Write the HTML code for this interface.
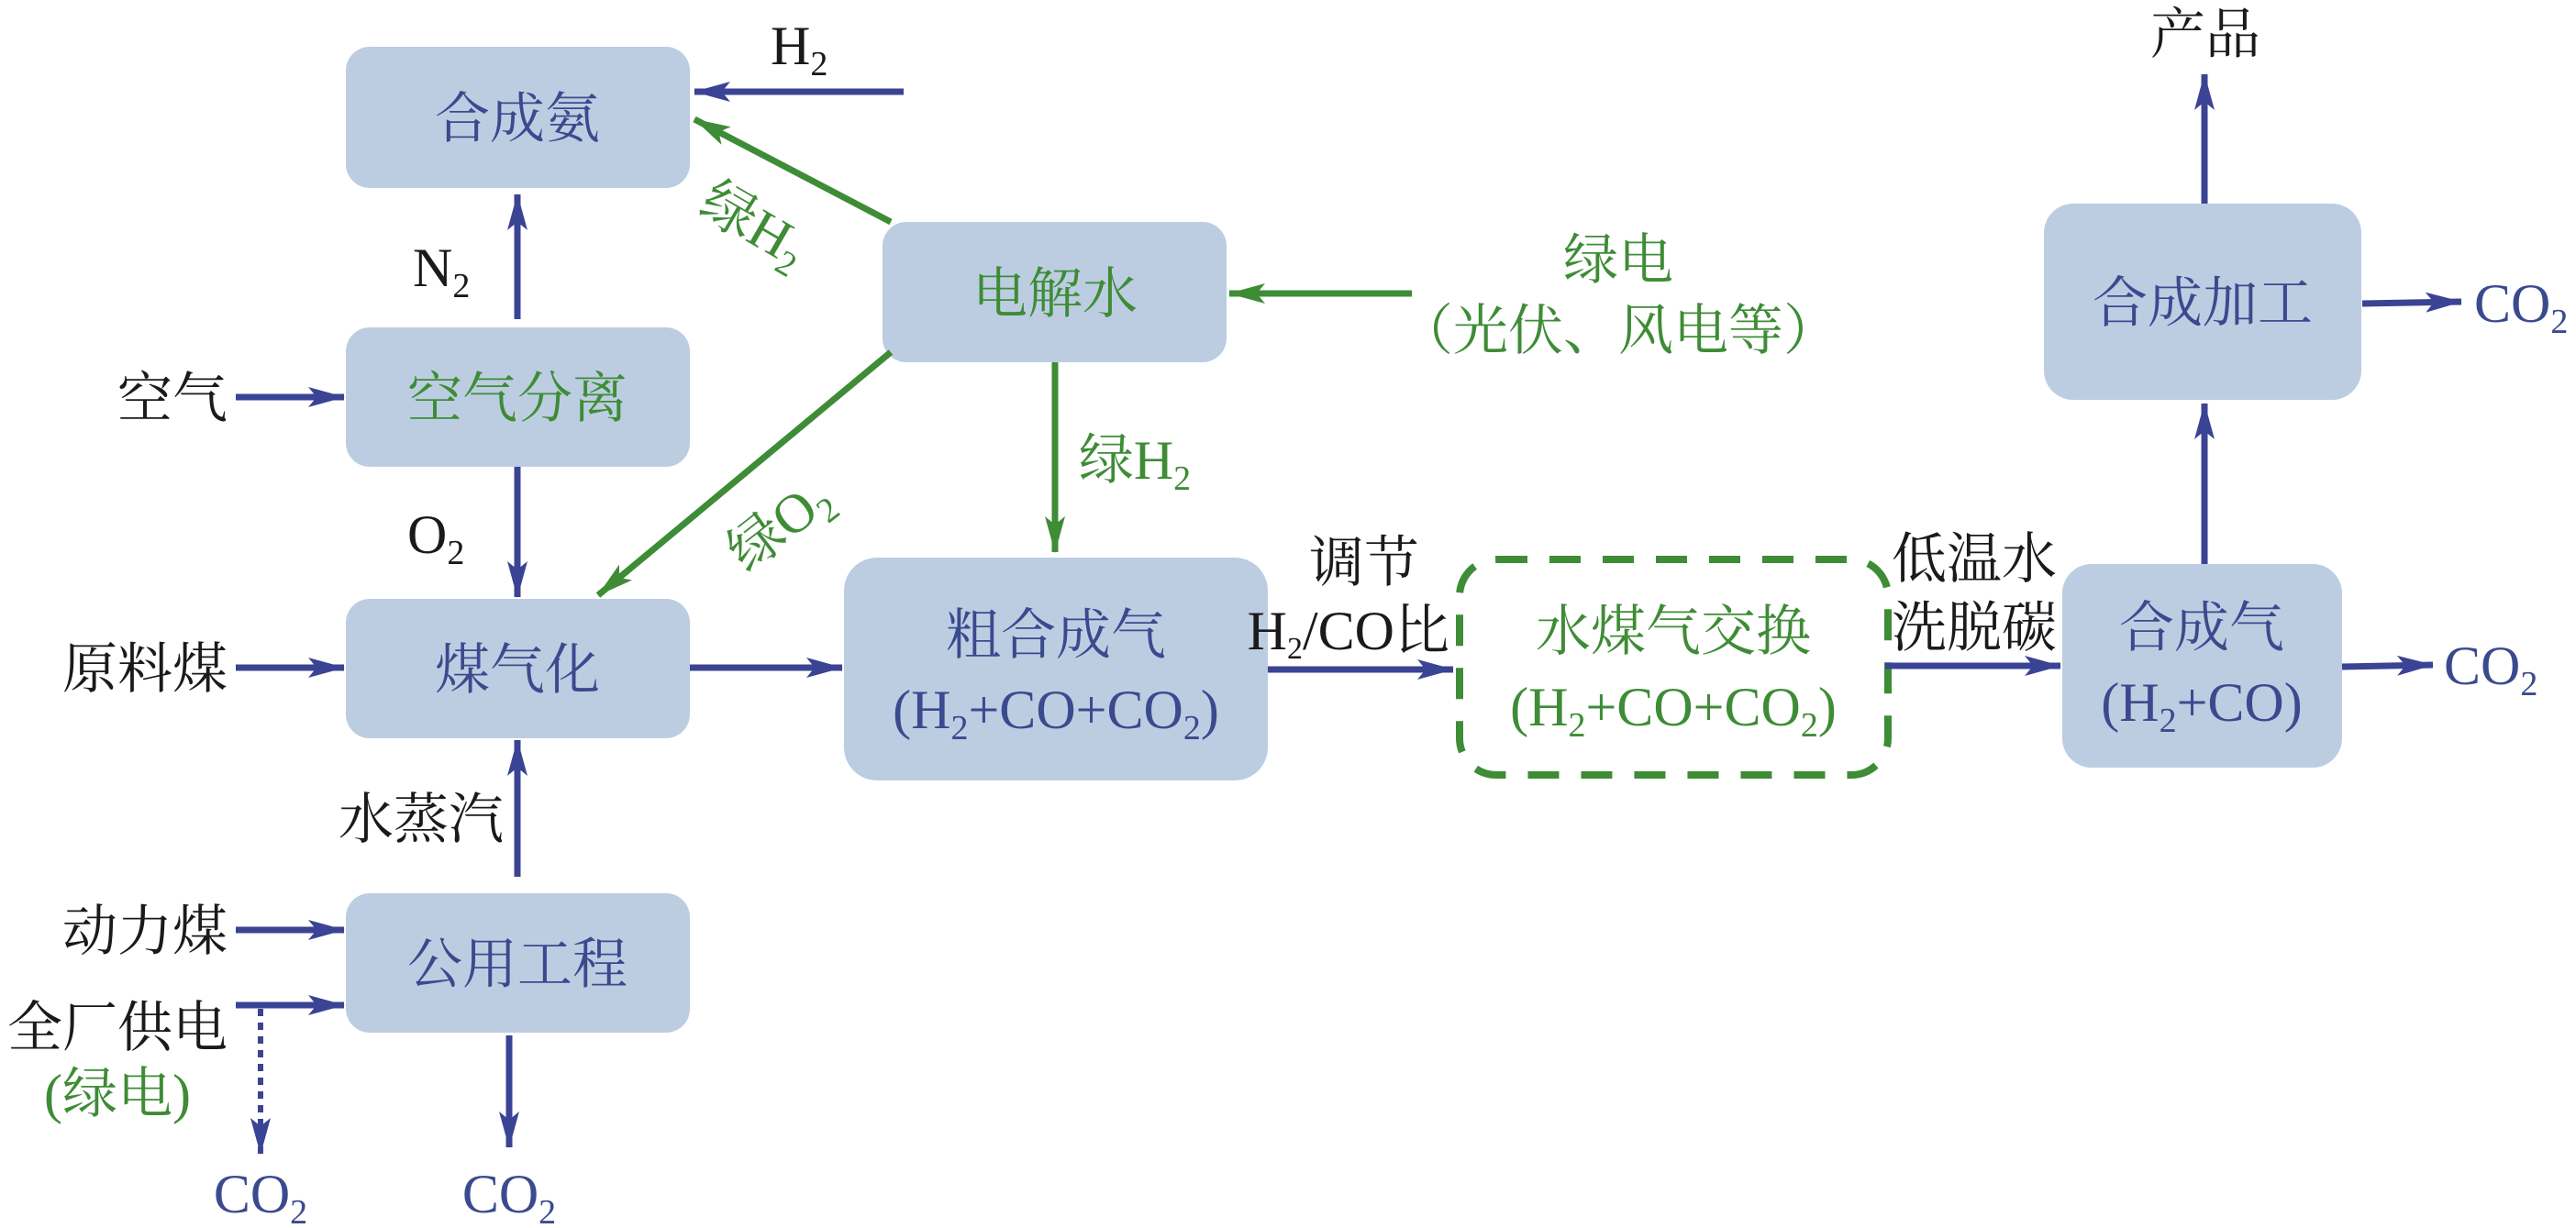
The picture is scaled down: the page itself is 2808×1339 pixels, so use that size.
<!DOCTYPE html>
<html><head><meta charset="utf-8"><style>
html,body{margin:0;padding:0;background:#fff;}
svg{display:block;}
text{font-family:"Liberation Serif","Noto Serif CJK SC",serif;font-size:60px;}
.b{fill:#3b4a8e;}
.g{fill:#3e8c36;}
.k{fill:#1a1a1a;}
.box{fill:#bccde2;}
</style></head><body>
<svg width="2808" height="1339" viewBox="0 0 2808 1339" xmlns="http://www.w3.org/2000/svg">
<defs>
<marker id="ab2" viewBox="0 0 40 22" refX="39" refY="11" markerWidth="40" markerHeight="22" markerUnits="userSpaceOnUse" orient="auto">
<path d="M0,0 L40,11 L0,22 L9,11 Z" fill="#3b4394"/></marker>
<marker id="ag" viewBox="0 0 40 22" refX="39" refY="11" markerWidth="40" markerHeight="22" markerUnits="userSpaceOnUse" orient="auto">
<path d="M0,0 L40,11 L0,22 L9,11 Z" fill="#3e8c36"/></marker>
</defs>

<rect class="box" x="377" y="51" width="375" height="154" rx="26"/>
<rect class="box" x="377" y="357" width="375" height="152" rx="26"/>
<rect class="box" x="377" y="653" width="375" height="152" rx="26"/>
<rect class="box" x="377" y="974" width="375" height="152" rx="26"/>
<rect class="box" x="962" y="242" width="375" height="153" rx="26"/>
<rect class="box" x="920" y="608" width="462" height="243" rx="36"/>
<rect class="box" x="2248" y="615" width="305" height="222" rx="32"/>
<rect class="box" x="2228" y="222" width="346" height="214" rx="32"/>
<rect x="1591" y="610" width="467" height="235" rx="40" fill="none" stroke="#3e8c36" stroke-width="8" stroke-dasharray="34,24"/>

<g stroke="#3b4394" stroke-width="7" fill="none" marker-end="url(#ab2)">
<line x1="985" y1="100" x2="757" y2="100"/>
<line x1="564" y1="348" x2="564" y2="212"/>
<line x1="257" y1="433" x2="375" y2="433"/>
<line x1="564" y1="509" x2="564" y2="651"/>
<line x1="257" y1="728" x2="375" y2="728"/>
<line x1="752" y1="728" x2="918" y2="728"/>
<line x1="564" y1="956" x2="564" y2="807"/>
<line x1="257" y1="1014" x2="375" y2="1014"/>
<line x1="257" y1="1096" x2="375" y2="1096"/>
<line x1="555" y1="1129" x2="555" y2="1251"/>
<line x1="1382" y1="730" x2="1584" y2="730"/>
<line x1="2055" y1="726" x2="2246" y2="726"/>
<line x1="2553" y1="727" x2="2652" y2="725"/>
<line x1="2403" y1="615" x2="2403" y2="440"/>
<line x1="2403" y1="222" x2="2403" y2="81"/>
<line x1="2575" y1="331" x2="2683" y2="329"/>
</g>
<line x1="284" y1="1100" x2="284" y2="1258" stroke="#3b4394" stroke-width="6" stroke-dasharray="8,7" marker-end="url(#ab2)"/>

<g stroke="#3e8c36" stroke-width="7" fill="none" marker-end="url(#ag)">
<line x1="971" y1="242" x2="757" y2="130"/>
<line x1="971" y1="384" x2="652" y2="649"/>
<line x1="1150" y1="395" x2="1150" y2="602"/>
<line x1="1539" y1="320" x2="1340" y2="320"/>
</g>

<g text-anchor="middle">
<text class="b" x="564" y="150">合成氨</text>
<text class="g" x="564" y="455">空气分离</text>
<text class="b" x="564" y="751">煤气化</text>
<text class="b" x="564" y="1072">公用工程</text>
<text class="g" x="1150" y="341">电解水</text>
<text class="b" x="1151" y="713">粗合成气</text>
<text class="b" x="1151" y="794">(H<tspan font-size="38" dy="12">2</tspan><tspan dy="-12">+CO+CO</tspan><tspan font-size="38" dy="12">2</tspan><tspan dy="-12">)</tspan></text>
<text class="g" x="1824" y="709">水煤气交换</text>
<text class="g" x="1824" y="791">(H<tspan font-size="38" dy="12">2</tspan><tspan dy="-12">+CO+CO</tspan><tspan font-size="38" dy="12">2</tspan><tspan dy="-12">)</tspan></text>
<text class="b" x="2400" y="705">合成气</text>
<text class="b" x="2400" y="786">(H<tspan font-size="38" dy="12">2</tspan><tspan dy="-12">+CO)</tspan></text>
<text class="b" x="2401" y="351">合成加工</text>
</g>

<text class="k" x="840" y="70">H<tspan font-size="38" dy="12">2</tspan></text>
<text class="k" x="450" y="312">N<tspan font-size="38" dy="12">2</tspan></text>
<text class="k" x="444" y="603">O<tspan font-size="38" dy="12">2</tspan></text>
<text class="k" x="248" y="455" text-anchor="end">空气</text>
<text class="k" x="248" y="750" text-anchor="end">原料煤</text>
<text class="k" x="549" y="914" text-anchor="end">水蒸汽</text>
<text class="k" x="248" y="1036" text-anchor="end">动力煤</text>
<text class="k" x="248" y="1141" text-anchor="end">全厂供电</text>
<text class="g" x="128" y="1213" text-anchor="middle">(绿电)</text>
<text class="b" x="284" y="1322" text-anchor="middle">CO<tspan font-size="38" dy="12">2</tspan></text>
<text class="b" x="555" y="1322" text-anchor="middle">CO<tspan font-size="38" dy="12">2</tspan></text>
<text class="g" x="1237" y="522" text-anchor="middle">绿H<tspan font-size="38" dy="12">2</tspan></text>
<text class="g" transform="translate(812,262) rotate(30)" text-anchor="middle">绿H<tspan font-size="38" dy="12">2</tspan></text>
<text class="g" transform="translate(862,588) rotate(-38)" text-anchor="middle">绿O<tspan font-size="38" dy="12">2</tspan></text>
<text class="g" x="1764" y="304" text-anchor="middle">绿电</text>
<text class="g" x="1764" y="381" text-anchor="middle">（光伏、风电等）</text>
<text class="k" x="1487" y="634" text-anchor="middle" font-size="52">调节</text>
<text class="k" x="1580" y="708" text-anchor="end" font-size="52">H<tspan font-size="34" dy="10">2</tspan><tspan dy="-10">/CO比</tspan></text>
<text class="k" x="2062" y="630">低温水</text>
<text class="k" x="2062" y="705">洗脱碳</text>
<text class="b" x="2664" y="746">CO<tspan font-size="38" dy="12">2</tspan></text>
<text class="b" x="2697" y="351">CO<tspan font-size="38" dy="12">2</tspan></text>
<text class="k" x="2404" y="58" text-anchor="middle">产品</text>
</svg>
</body></html>
